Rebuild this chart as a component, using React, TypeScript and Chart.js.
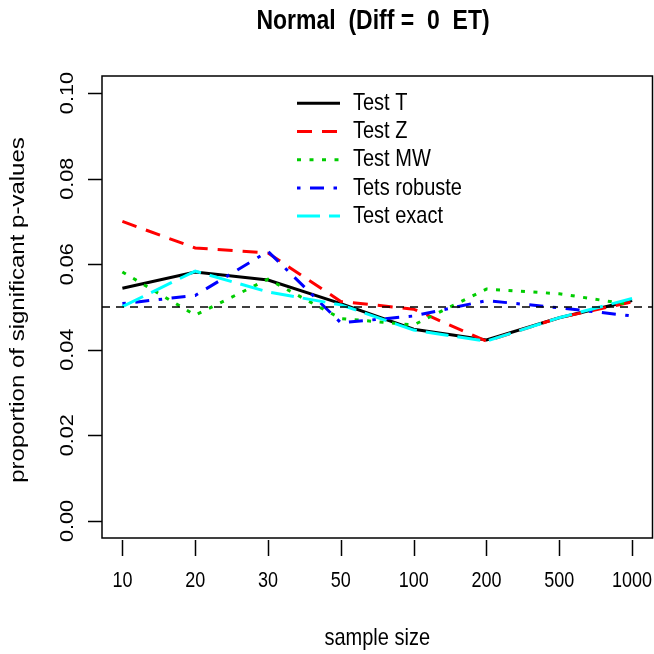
import React, { useEffect, useRef } from "react";
import { Chart, registerables } from "chart.js";

Chart.register(...registerables);

// Sample sizes (categorical positions 1..8 on the x axis)
const sampleSizes = ["10", "20", "30", "50", "100", "200", "500", "1000"];

// Proportion of significant p-values for each test
const testT = [0.0544, 0.0582, 0.0563, 0.0508, 0.0448, 0.0423, 0.0475, 0.0515];
const testZ = [0.07, 0.0638, 0.0626, 0.0513, 0.0495, 0.042, 0.0475, 0.0512];
const testMW = [0.0582, 0.0481, 0.0565, 0.0473, 0.0458, 0.0542, 0.0531, 0.0505];
const testRobust = [0.0508, 0.0527, 0.063, 0.0463, 0.0479, 0.0515, 0.0498, 0.0479];
const testExact = [0.0501, 0.0584, 0.0535, 0.0505, 0.0446, 0.042, 0.0475, 0.052];

const yTicks = [0, 0.02, 0.04, 0.06, 0.08, 0.1];
const yTickLabels = ["0.00", "0.02", "0.04", "0.06", "0.08", "0.10"];
const nominalLevel = 0.05;

const titleText = "Normal  (Diff =  0  ET)";
const xTitle = "sample size";
const yTitle = "proportion of significant p-values";

const seriesDefs = [
  { label: "Test T", values: testT, color: "#000000", dash: [] as number[] },
  { label: "Test Z", values: testZ, color: "#ff0000", dash: [15, 10] },
  { label: "Test MW", values: testMW, color: "#00cd00", dash: [4, 8.5] },
  { label: "Tets robuste", values: testRobust, color: "#0000ff", dash: [3.5, 9.5, 14, 9.5] },
  { label: "Test exact", values: testExact, color: "#00ffff", dash: [23, 9] },
];

const FONT = "'Liberation Sans', Arial, sans-serif";
const STRETCH = 1.2;

function stretchedText(
  ctx: CanvasRenderingContext2D,
  text: string,
  x: number,
  y: number,
  font: string,
  align: CanvasTextAlign,
  rotated = false
) {
  ctx.save();
  ctx.translate(x, y);
  if (rotated) {
    ctx.rotate(-Math.PI / 2);
    ctx.scale(STRETCH, 1);
  } else {
    ctx.scale(1, STRETCH);
  }
  ctx.font = font;
  ctx.fillStyle = "#000";
  ctx.textAlign = align;
  ctx.textBaseline = "middle";
  ctx.fillText(text, 0, 0);
  ctx.restore();
}

const basePlot = {
  id: "basePlot",
  afterDatasetsDraw(chart: any) {
    const { ctx, chartArea: a, scales } = chart;
    const yRef = scales.y.getPixelForValue(nominalLevel);
    ctx.save();
    ctx.strokeStyle = "#000";
    ctx.lineWidth = 1.6;
    ctx.setLineDash([8, 6]);
    ctx.beginPath();
    ctx.moveTo(a.left, yRef);
    ctx.lineTo(a.right, yRef);
    ctx.stroke();
    ctx.restore();
  },
  afterDraw(chart: any) {
    const { ctx, chartArea: a, scales } = chart;
    const xs = scales.x;
    const ys = scales.y;
    ctx.save();
    ctx.strokeStyle = "#000";
    ctx.lineWidth = 1.5;
    ctx.setLineDash([]);
    // frame
    ctx.strokeRect(a.left, a.top, a.right - a.left, a.bottom - a.top);

    // x ticks
    ctx.beginPath();
    sampleSizes.forEach((_, i) => {
      const px = Math.round(xs.getPixelForValue(i + 1)) + 0.5;
      ctx.moveTo(px, a.bottom + 2);
      ctx.lineTo(px, a.bottom + 18);
    });
    // y ticks
    yTicks.forEach((v) => {
      const py = Math.round(ys.getPixelForValue(v)) + 0.5;
      ctx.moveTo(a.left, py);
      ctx.lineTo(a.left - 14, py);
    });
    ctx.stroke();
    ctx.restore();

    const tickFont = `18px ${FONT}`;
    sampleSizes.forEach((s, i) => {
      stretchedText(ctx, s, xs.getPixelForValue(i + 1), a.bottom + 43, tickFont, "center");
    });
    yTicks.forEach((v, i) => {
      stretchedText(ctx, yTickLabels[i], a.left - 34, ys.getPixelForValue(v), tickFont, "center", true);
    });

    const labFont = `20px ${FONT}`;
    stretchedText(ctx, xTitle, (a.left + a.right) / 2, 638, labFont, "center");
    stretchedText(ctx, yTitle, 18, (a.top + a.bottom) / 2 + 3, labFont, "center", true);
    stretchedText(ctx, titleText, 373, 21, `bold 23px ${FONT}`, "center");

    // legend
    const lx0 = 297;
    const lx1 = 340;
    const ly0 = 103.3;
    const step = 28.2;
    seriesDefs.forEach((s, i) => {
      const ly = ly0 + i * step;
      ctx.save();
      ctx.strokeStyle = s.color;
      ctx.lineWidth = 3;
      ctx.setLineDash(s.dash);
      ctx.beginPath();
      ctx.moveTo(lx0, ly);
      ctx.lineTo(lx1, ly);
      ctx.stroke();
      ctx.restore();
      stretchedText(ctx, s.label, 353, ly, labFont, "left");
    });
  },
};

export default function App() {
  const canvasRef = useRef<HTMLCanvasElement | null>(null);

  useEffect(() => {
    document.body.style.margin = "0";
    const canvas = canvasRef.current;
    if (!canvas) return;
    const chart = new Chart(canvas, {
      type: "line",
      data: {
        datasets: seriesDefs.map((s, idx) => ({
          label: s.label,
          data: s.values.map((v, i) => ({ x: i + 1, y: v })),
          borderColor: s.color,
          backgroundColor: s.color,
          borderWidth: 3,
          borderDash: s.dash,
          pointRadius: 0,
          tension: 0,
          fill: false,
          order: seriesDefs.length - idx,
        })),
      },
      options: {
        responsive: false,
        animation: false,
        devicePixelRatio: 1,
        layout: { padding: { left: 102, right: 1.5, top: 76, bottom: 116 } },
        plugins: {
          legend: { display: false },
          title: { display: false },
          tooltip: { enabled: false },
        },
        scales: {
          x: { type: "linear", min: 0.72, max: 8.28, display: false },
          y: { type: "linear", min: -0.004, max: 0.104, display: false },
        },
      },
      plugins: [basePlot],
    });
    return () => chart.destroy();
  }, []);

  return (
    <div style={{ width: 654, height: 654, background: "#fff" }}>
      <canvas ref={canvasRef} width={654} height={654} />
    </div>
  );
}
